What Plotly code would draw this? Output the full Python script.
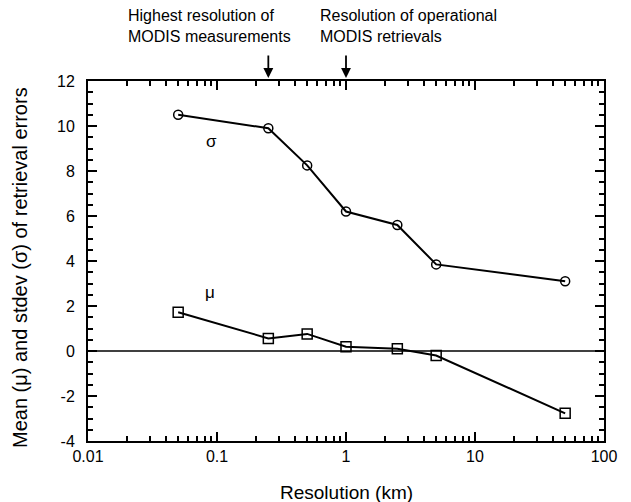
import numpy as np
import plotly.graph_objects as go

# Resolution (km) and retrieval error statistics
resolution = [0.05, 0.25, 0.5, 1, 2.5, 5, 50]
sigma_vals = [10.5, 9.9, 8.25, 6.2, 5.6, 3.85, 3.1]
mu_vals = [1.72, 0.56, 0.76, 0.19, 0.1, -0.2, -2.77]

x_ticks = [0.01, 0.1, 1, 10, 100]
x_tick_text = ["0.01", "0.1", "1", "10", "100"]
y_ticks = [-4, -2, 0, 2, 4, 6, 8, 10, 12]
y_tick_text = ["-4", "-2", "0", "2", "4", "6", "8", "10", "12"]

W, H = 631, 502
ML, MR, MT, MB = 88, 27, 81, 61
FONT = "Liberation Sans, Arial, Helvetica, sans-serif"


def px_x(px):
    """Pixel column -> paper x."""
    return (px - ML) / (W - ML - MR)


def px_y(py):
    """Pixel row -> paper y."""
    return (H - MB - py) / (H - MT - MB)


fig = go.Figure()

# zero reference line
fig.add_trace(go.Scatter(x=[0.01, 100], y=[0, 0], mode="lines",
                         line=dict(color="black", width=1.5),
                         hoverinfo="skip", showlegend=False))

fig.add_trace(go.Scatter(x=resolution, y=sigma_vals, mode="lines+markers",
                         line=dict(color="black", width=2),
                         marker=dict(symbol="circle-open", size=9, color="black",
                                     line=dict(width=1.5)),
                         showlegend=False))
fig.add_trace(go.Scatter(x=resolution, y=mu_vals, mode="lines+markers",
                         line=dict(color="black", width=2),
                         marker=dict(symbol="square-open", size=10, color="black",
                                     line=dict(width=1.5)),
                         showlegend=False))

minor_x = [m * 10.0 ** e for e in range(-2, 2) for m in range(2, 10)]

fig.update_xaxes(type="log", range=[-2, 2], tickvals=x_ticks, ticktext=x_tick_text,
                 ticks="inside", ticklen=9, tickwidth=2, tickcolor="black",
                 showline=True, linecolor="black", linewidth=2, mirror="ticks",
                 showgrid=False, zeroline=False,
                 minor=dict(tickvals=minor_x, ticks="inside", ticklen=5,
                            tickwidth=1.5, tickcolor="black", showgrid=False),
                 tickfont=dict(size=16, color="black", family=FONT))
fig.update_yaxes(range=[-4, 12], tickvals=y_ticks, ticktext=y_tick_text,
                 ticks="inside", ticklen=9, tickwidth=2, tickcolor="black",
                 showline=True, linecolor="black", linewidth=2, mirror="ticks",
                 showgrid=False, zeroline=False, ticklabelstandoff=8,
                 minor=dict(dtick=0.5, ticks="inside", ticklen=5,
                            tickwidth=1.5, tickcolor="black", showgrid=False),
                 tickfont=dict(size=16, color="black", family=FONT))

# axis titles
fig.add_annotation(x=px_x(346), y=px_y(492), xref="paper", yref="paper",
                   text="Resolution (km)", showarrow=False,
                   xanchor="center", yanchor="middle",
                   font=dict(size=19, color="black", family=FONT))
fig.add_annotation(x=px_x(20), y=px_y(268), xref="paper", yref="paper",
                   text="Mean (\u03bc) and stdev (\u03c3) of retrieval errors",
                   showarrow=False, textangle=-90,
                   xanchor="center", yanchor="middle",
                   font=dict(size=20, color="black", family=FONT))

# arrows marking the two reference resolutions
for xv in [0.25, 1]:
    fig.add_annotation(x=np.log10(xv), xref="x", y=px_y(78), yref="paper",
                       ax=0, ay=-24, text="", showarrow=True,
                       arrowhead=2, arrowsize=1.1, arrowwidth=1.8, arrowcolor="black")

# explanatory text above the arrows
notes = [
    (127, "Highest resolution of<br>MODIS measurements"),
    (319, "Resolution of operational<br>MODIS retrievals"),
]
for px, txt in notes:
    fig.add_annotation(x=px_x(px), y=px_y(6), xref="paper", yref="paper",
                       text=txt, showarrow=False, xanchor="left", yanchor="top",
                       align="left", borderpad=0,
                       font=dict(size=16, color="black", family=FONT))

# series labels
fig.add_annotation(x=np.log10(0.0914), y=9.3, xref="x", yref="y", text="\u03c3",
                   showarrow=False, font=dict(size=17, color="black", family=FONT))
fig.add_annotation(x=np.log10(0.0887), y=2.6, xref="x", yref="y", text="\u03bc",
                   showarrow=False, font=dict(size=17, color="black", family=FONT))

fig.update_layout(width=W, height=H, margin=dict(l=ML, r=MR, t=MT, b=MB),
                  paper_bgcolor="white", plot_bgcolor="white",
                  font=dict(family=FONT, color="black"))

fig.write_html("out.html")
